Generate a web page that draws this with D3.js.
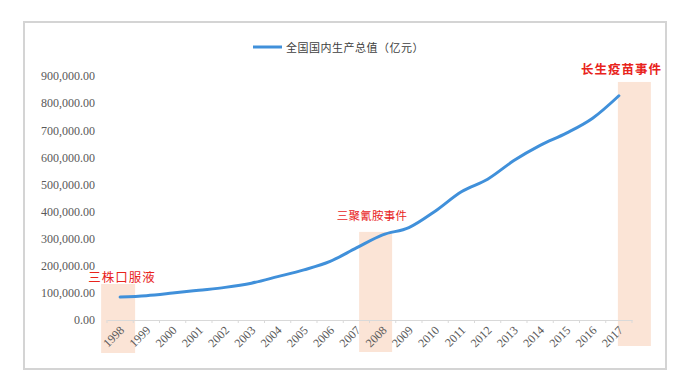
<!DOCTYPE html>
<html><head><meta charset="utf-8">
<script src="https://cdn.jsdelivr.net/npm/d3@7"></script>
<style>body{margin:0;background:#fff}svg{display:block}</style>
</head><body>
<svg id="c" width="681" height="383"></svg>
<script>
const years = ["1998","1999","2000","2001","2002","2003","2004","2005","2006","2007","2008","2009","2010","2011","2012","2013","2014","2015","2016","2017"];
const gdp = [84402,89677,99215,109655,120333,135823,159878,184937,216314,265810,314045,340903,401513,473104,519470,588019,643974,689052,744127,827122];
const yTicks = [0,100000,200000,300000,400000,500000,600000,700000,800000,900000];
const seriesName = "全国国内生产总值（亿元）";
const eventYears = ["1998","2008","2017"];
const eventLabels = ["三株口服液","三聚氰胺事件","长生疫苗事件"];
const eventTops = [133000,325000,878000];

const svg = d3.select("#c");
// frame
svg.append("rect").attr("x",24).attr("y",22).attr("width",642).attr("height",347)
  .attr("fill","#fff").attr("stroke","#d4d4d4").attr("stroke-width",2);

const x = d3.scaleBand().domain(years).range([107,632]);
const y = d3.scaleLinear().domain([0,900000]).range([320,76]);
const cx = d => x(d)+x.bandwidth()/2;

// event rects
const rectGeom = {"1998":{l:-19,r:15,b:33},"2008":{l:-23.5,r:9.5,b:32},"2017":{l:-1,r:32,b:26}};
svg.selectAll("rect.ev").data(eventYears).enter().append("rect").attr("class","ev")
  .attr("x",d=>cx(d)+rectGeom[d].l)
  .attr("width",d=>rectGeom[d].r-rectGeom[d].l)
  .attr("y",(d,i)=>y(eventTops[i]))
  .attr("height",(d,i)=>y(0)+rectGeom[d].b-y(eventTops[i]))
  .attr("fill","#fbe4d6");

// x axis
const xa = svg.append("g").attr("transform","translate(0,320)")
  .call(d3.axisBottom(x).tickSize(0).tickPadding(0));
xa.select(".domain").attr("stroke","#d9d9d9");
xa.selectAll(".tick text").remove();
svg.append("g").selectAll("line").data(d3.range(years.length+1)).enter().append("line")
  .attr("x1",i=>x.range()[0]+i*x.step()).attr("x2",i=>x.range()[0]+i*x.step())
  .attr("y1",320).attr("y2",323).attr("stroke","#d9d9d9");
svg.append("g").selectAll("text").data(years).enter().append("text")
  .attr("transform",d=>`translate(${cx(d)+3},${329}) rotate(-45)`)
  .attr("text-anchor","end").attr("dominant-baseline","middle")
  .attr("font-family","Liberation Serif, serif").attr("font-size",12)
  .attr("fill","#595959").text(d=>d);

// y axis labels
const ya = svg.append("g").attr("transform","translate(95,0)")
  .call(d3.axisLeft(y).tickValues(yTicks).tickSize(0).tickPadding(0)
    .tickFormat(d=>d3.format(",.2f")(d)));
ya.select(".domain").remove();
ya.selectAll("text").attr("font-family","Liberation Serif, serif").attr("font-size",12).attr("fill","#595959");

// line
const line = d3.line().x((d,i)=>cx(years[i])).y(d=>y(d)).curve(d3.curveMonotoneX);
svg.append("path").datum(gdp).attr("d",line).attr("fill","none")
  .attr("stroke","#4090da").attr("stroke-width",3).attr("stroke-linecap","round");

// legend
svg.append("line").attr("x1",253).attr("x2",282).attr("y1",47).attr("y2",47)
  .attr("stroke","#4090da").attr("stroke-width",3);
svg.append("text").attr("x",286).attr("y",47).attr("dominant-baseline","central")
  .attr("font-family","Noto Sans CJK SC").attr("font-size",11).attr("letter-spacing",0.5)
  .attr("fill","#404040").text(seriesName);

// annotations
const annPos = [{dx:-32,dy:-7,size:12.5,w:400,ls:1},{dx:-46,dy:-17,size:11.5,w:400,ls:0.3},{dx:-38,dy:-13,size:12.5,w:700,ls:1}];
svg.selectAll("text.ann").data(eventLabels).enter().append("text").attr("class","ann")
  .attr("x",(d,i)=>cx(eventYears[i])+annPos[i].dx)
  .attr("y",(d,i)=>y(eventTops[i])+annPos[i].dy)
  .attr("dominant-baseline","central")
  .attr("font-family","Noto Sans CJK SC").attr("font-size",(d,i)=>annPos[i].size)
  .attr("font-weight",(d,i)=>annPos[i].w).attr("letter-spacing",(d,i)=>annPos[i].ls)
  .attr("fill","#e8241c").text(d=>d);
</script>
</body></html>
